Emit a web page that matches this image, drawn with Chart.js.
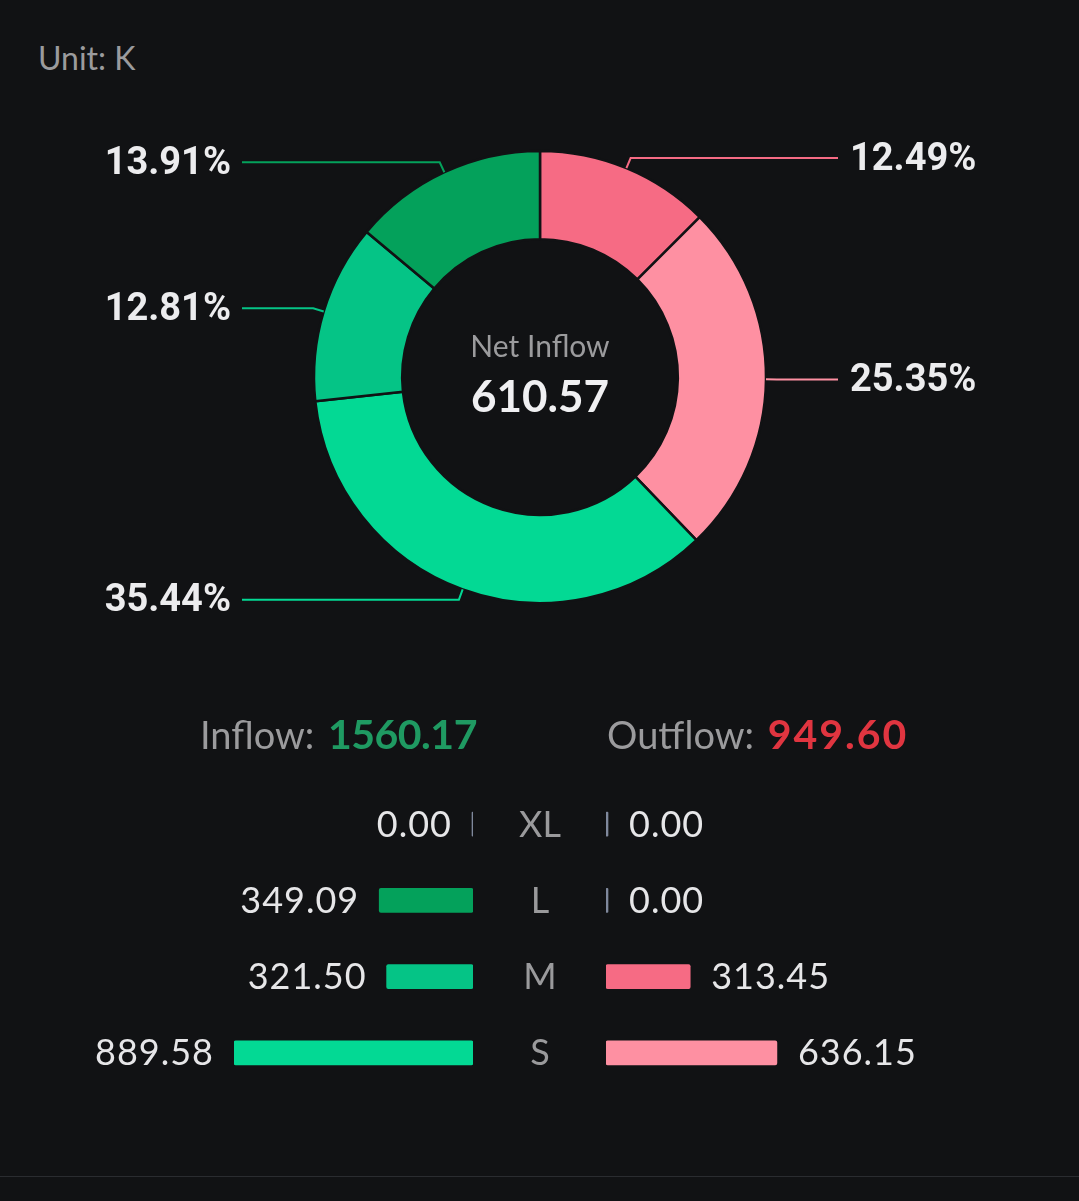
<!DOCTYPE html>
<html><head><meta charset="utf-8">
<script src="https://cdn.jsdelivr.net/npm/chart.js@4.4.1/dist/chart.umd.min.js"></script>
<style>
html,body{margin:0;padding:0;background:#111214;}
body{width:1079px;height:1201px;position:relative;overflow:hidden;font-family:Lato,"Noto Sans",sans-serif;}
#unit{position:absolute;left:38px;top:38px;font-size:32px;line-height:40px;color:#9b9b9d;}
#donutWrap{position:absolute;left:0;top:0;width:1079px;height:754px;}
.tot{position:absolute;top:710px;font-size:38px;line-height:48px;white-space:nowrap;color:#9b9b9d;}
.tot b{font-weight:700;font-size:41px;letter-spacing:0.5px;margin-left:4px;}
#inTot{left:200px;} #inTot b{color:#1f9a62;letter-spacing:-0.5px;}
#outTot{left:607px;} #outTot b{color:#e03540;letter-spacing:2px;}
.barWrap{position:absolute;left:0;top:786px;width:1079px;height:305px;}
#rule{position:absolute;left:0;top:1176px;width:1079px;height:1px;background:#2a2c30;}
</style>
</head><body>
<div id="unit"></div>
<div id="donutWrap"><canvas id="donut"></canvas></div>
<div class="tot" id="inTot"></div>
<div class="tot" id="outTot"></div>
<div class="barWrap"><canvas id="barsL"></canvas></div>
<div class="barWrap"><canvas id="barsR"></canvas></div>
<div id="rule"></div>
<script>
// ---- data ----
const unitLabel = 'Unit: K';
const centerTitle = 'Net Inflow';
const inflowLabel = 'Inflow:';
const outflowLabel = 'Outflow:';
const categories = ['XL', 'L', 'M', 'S'];
const inflowValues = [0.00, 349.09, 321.50, 889.58];
const outflowValues = [0.00, 0.00, 313.45, 636.15];

// ---- styles ----
const BG = '#111214';
const inColors = {XL: '#00875a', L: '#04a15b', M: '#05c486', S: '#03d994'};
const outColors = {XL: '#e0485e', L: '#f2566f', M: '#f66b84', S: '#fe90a2'};
const zeroColor = '#7f889c';

const sum = a => a.reduce((s, v) => s + v, 0);
const totalIn = sum(inflowValues);
const totalOut = sum(outflowValues);
const net = totalIn - totalOut;
const grand = totalIn + totalOut;

document.getElementById('unit').textContent = unitLabel;
document.getElementById('inTot').innerHTML = inflowLabel + ' <b>' + totalIn.toFixed(2) + '</b>';
document.getElementById('outTot').innerHTML = outflowLabel + ' <b>' + totalOut.toFixed(2) + '</b>';

// doughnut slices: outflow (XL->S) then inflow (S->XL), nonzero only
const sliceValues = [], sliceColors = [];
categories.forEach((c, i) => { if (outflowValues[i] > 0) { sliceValues.push(outflowValues[i]); sliceColors.push(outColors[c]); } });
for (let i = categories.length - 1; i >= 0; i--) { if (inflowValues[i] > 0) { sliceValues.push(inflowValues[i]); sliceColors.push(inColors[categories[i]]); } }

const donutLabels = {
  id: 'donutLabels',
  afterDatasetsDraw(chart) {
    const ctx = chart.ctx;
    const meta = chart.getDatasetMeta(0);
    meta.data.forEach((arc, i) => {
      const p = arc.getProps(['x', 'y', 'startAngle', 'endAngle', 'outerRadius'], true);
      const a = (p.startAngle + p.endAngle) / 2;
      const cos = Math.cos(a), sin = Math.sin(a);
      const r = p.outerRadius;
      const x0 = p.x + cos * r, y0 = p.y + sin * r;
      const x1 = p.x + cos * (r + 11), y1 = p.y + sin * (r + 11);
      const right = cos >= 0;
      const ex = right ? p.x + r + 72 : p.x - r - 72;
      ctx.save();
      ctx.strokeStyle = sliceColors[i];
      ctx.lineWidth = 2;
      ctx.beginPath();
      ctx.moveTo(x0, y0); ctx.lineTo(x1, y1); ctx.lineTo(ex, y1);
      ctx.stroke();
      const pct = (sliceValues[i] / grand * 100).toFixed(2) + '%';
      ctx.font = '700 38px Roboto';
      ctx.fillStyle = '#ececee';
      ctx.textBaseline = 'middle';
      ctx.textAlign = right ? 'left' : 'right';
      ctx.fillText(pct, right ? ex + 12 : ex - 11, y1 + 2);
      ctx.restore();
    });
  },
  afterDraw(chart) {
    const ctx = chart.ctx;
    const a = chart.chartArea;
    const cx = (a.left + a.right) / 2, cy = (a.top + a.bottom) / 2;
    ctx.save();
    ctx.textAlign = 'center';
    ctx.textBaseline = 'middle';
    ctx.fillStyle = '#9b9b9d';
    ctx.font = '400 30px Lato';
    ctx.fillText(centerTitle, cx, cy - 30);
    ctx.fillStyle = '#f0f0f2';
    ctx.font = '700 44px Lato';
    ctx.fillText(net.toFixed(2), cx, cy + 21);
    ctx.restore();
  }
};

new Chart(document.getElementById('donut'), {
  type: 'doughnut',
  data: {
    labels: sliceValues.map((v, i) => String(i)),
    datasets: [{
      data: sliceValues,
      backgroundColor: sliceColors,
      borderColor: BG,
      borderWidth: 2.5,
      hoverOffset: 0
    }]
  },
  options: {
    responsive: true,
    maintainAspectRatio: false,
    animation: false,
    radius: 226,
    cutout: '61%',
    layout: {padding: {left: 1}},
    plugins: {legend: {display: false}, tooltip: {enabled: false}}
  },
  plugins: [donutLabels]
});

const maxVal = Math.max(...inflowValues, ...outflowValues);

function barLabels(side) {
  return {
    id: 'barLabels' + side,
    afterDatasetsDraw(chart) {
      const ctx = chart.ctx;
      const meta = chart.getDatasetMeta(0);
      const vals = chart.data.datasets[0].data;
      ctx.save();
      ctx.font = '400 36px Lato';
      ctx.letterSpacing = '1px';
      ctx.fillStyle = '#e6e6e8';
      ctx.textBaseline = 'middle';
      meta.data.forEach((bar, i) => {
        const p = bar.getProps(['x', 'y', 'base'], true);
        const txt = vals[i].toFixed(2);
        if (side === 'L') {
          ctx.textAlign = 'right';
          ctx.fillText(txt, Math.min(p.x, p.base) - 20, p.y + 1);
        } else {
          ctx.textAlign = 'left';
          ctx.fillText(txt, Math.max(p.x, p.base) + 21, p.y + 1);
        }
      });
      if (side === 'L') {
        ctx.textAlign = 'center';
        ctx.fillStyle = '#9a9a9c';
        ctx.letterSpacing = '0px';
        categories.forEach((c, i) => {
          ctx.fillText(c, chart.width / 2 + 0.5, chart.scales.y.getPixelForValue(i) + 1);
        });
      }
      ctx.restore();
    }
  };
}

function makeBars(id, values, colors, side) {
  return new Chart(document.getElementById(id), {
    type: 'bar',
    data: {
      labels: categories,
      datasets: [{
        data: values,
        backgroundColor: values.map((v, i) => v === 0 ? zeroColor : colors[categories[i]]),
        barThickness: 24,
        minBarLength: 2,
        borderRadius: 2,
        borderSkipped: false
      }]
    },
    options: {
      indexAxis: 'y',
      responsive: true,
      maintainAspectRatio: false,
      animation: false,
      layout: {padding: side === 'L' ? {left: 234, right: 606, top: 0, bottom: 0} : {left: 606, right: 234, top: 0, bottom: 0}},
      scales: {
        x: {display: false, min: 0, max: maxVal, reverse: side === 'L'},
        y: {display: false}
      },
      plugins: {legend: {display: false}, tooltip: {enabled: false}}
    },
    plugins: [barLabels(side)]
  });
}
makeBars('barsL', inflowValues, inColors, 'L');
makeBars('barsR', outflowValues, outColors, 'R');
</script>
</body></html>
